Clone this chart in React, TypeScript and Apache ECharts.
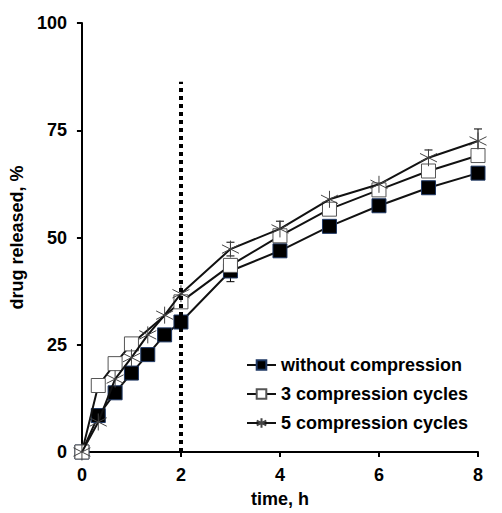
import React, { useEffect, useRef } from "react";
import * as echarts from "echarts";

const times = [0, 0.33, 0.67, 1, 1.33, 1.67, 2, 3, 4, 5, 6, 7, 8];
const withoutCompression = [0, 8.5, 13.8, 18.4, 22.7, 27.3, 30.3, 42.2, 46.9, 52.6, 57.4, 61.6, 65.0];
const threeCycles = [0, 15.5, 20.6, 25.2, null, null, 35.0, 43.5, 50.4, 56.6, 61.1, 65.5, 69.1];
const fiveCycles = [0, 7.0, 17.0, 22.0, 27.3, 31.9, 36.9, 47.3, 52.0, 58.9, 62.4, 68.6, 72.5];
const withoutErr = [0, 0, 0, 0, 0, 0, 0, 2.5, 0, 0, 0, 0, 0];
const fiveErr = [0, 0, 0, 0, 0, 0, 0, 1.6, 1.8, 0, 0, 1.8, 2.8];
const seriesNames = ["without compression", "3 compression cycles", "5 compression cycles"];
const xTicks = [0, 2, 4, 6, 8];
const yTicks = [0, 25, 50, 75, 100];
const markerTime = 2;
const markerTop = 86.3;

const FONT = "'Liberation Sans', Arial, sans-serif";
const STAR = "path://M0,-10 L0,10 M-8.66,-5 L8.66,5 M-8.66,5 L8.66,-5";

function pairs(vals: (number | null)[]) {
  const out: number[][] = [];
  vals.forEach((v, i) => {
    if (v !== null) out.push([times[i], v]);
  });
  return out;
}

function errData(vals: (number | null)[], errs: number[]) {
  const out: number[][] = [];
  errs.forEach((e, i) => {
    const v = vals[i];
    if (e > 0 && v !== null) out.push([times[i], v - e, v + e]);
  });
  return out;
}

function errSeries(data: number[][]) {
  return {
    type: "custom",
    z: 1,
    silent: true,
    data,
    renderItem: (params: any, api: any) => {
      const x = api.value(0);
      const lo = api.coord([x, api.value(1)]);
      const hi = api.coord([x, api.value(2)]);
      const w = 4;
      const st = { stroke: "#000", lineWidth: 1 };
      return {
        type: "group",
        children: [
          { type: "line", shape: { x1: lo[0], y1: lo[1], x2: hi[0], y2: hi[1] }, style: st },
          { type: "line", shape: { x1: lo[0] - w, y1: lo[1], x2: lo[0] + w, y2: lo[1] }, style: st },
          { type: "line", shape: { x1: hi[0] - w, y1: hi[1], x2: hi[0] + w, y2: hi[1] }, style: st },
        ],
      };
    },
  };
}

export default function App() {
  const ref = useRef<HTMLDivElement>(null);
  useEffect(() => {
    if (!ref.current) return;
    const chart = echarts.init(ref.current, undefined, { renderer: "svg" });
    const axisLabel = { color: "#000", fontSize: 18, fontWeight: "bold", fontFamily: FONT, margin: 14 };
    chart.setOption({
      animation: false,
      backgroundColor: "#fff",
      grid: { left: 77, right: 24, top: 23, bottom: 58 },
      xAxis: {
        type: "value",
        min: xTicks[0],
        max: xTicks[xTicks.length - 1],
        interval: 2,
        name: "time, h",
        nameLocation: "middle",
        nameGap: 38,
        nameTextStyle: { color: "#000", fontSize: 18, fontWeight: "bold", fontFamily: FONT },
        axisLine: { lineStyle: { color: "#000", width: 2 } },
        axisTick: { show: true, length: 5, lineStyle: { color: "#000", width: 2 } },
        axisLabel,
        splitLine: { show: false },
      },
      yAxis: {
        type: "value",
        min: yTicks[0],
        max: yTicks[yTicks.length - 1],
        interval: 25,
        name: "drug released, %",
        nameLocation: "middle",
        nameGap: 52,
        nameTextStyle: { color: "#000", fontSize: 18, fontWeight: "bold", fontFamily: FONT },
        axisLine: { show: true, lineStyle: { color: "#000", width: 2 } },
        axisTick: { show: true, length: 5, lineStyle: { color: "#000", width: 2 } },
        axisLabel: { ...axisLabel, margin: 15 },
        splitLine: { show: false },
      },
      legend: {
        orient: "vertical",
        left: 241,
        top: 351,
        itemWidth: 29,
        itemHeight: 12,
        itemGap: 11,
        textStyle: { color: "#000", fontSize: 18, fontWeight: "bold", fontFamily: FONT },
        data: seriesNames,
      },
      series: [
        errSeries(errData(withoutCompression, withoutErr)),
        errSeries(errData(fiveCycles, fiveErr)),
        {
          name: seriesNames[0],
          type: "line",
          z: 2,
          data: pairs(withoutCompression),
          symbol: "rect",
          symbolSize: 14,
          lineStyle: { color: "#111", width: 2 },
          itemStyle: { color: "#000", borderColor: "#1f3864", borderWidth: 1 },
          markLine: {
            silent: true,
            symbol: "none",
            label: { show: false },
            lineStyle: { color: "#000", width: 4, type: [4, 4], cap: "butt" },
            data: [[{ coord: [markerTime, 0] }, { coord: [markerTime, markerTop] }]],
          },
        },
        {
          name: seriesNames[1],
          type: "line",
          z: 3,
          data: pairs(threeCycles),
          symbol: "rect",
          symbolSize: 14,
          lineStyle: { color: "#111", width: 2 },
          itemStyle: { color: "#fff", borderColor: "#555", borderWidth: 1 },
        },
        {
          name: seriesNames[2],
          type: "line",
          z: 4,
          data: pairs(fiveCycles),
          symbol: STAR,
          symbolSize: 17,
          lineStyle: { color: "#111", width: 2 },
          itemStyle: { color: "none", borderColor: "#444", borderWidth: 1 },
        },
      ],
    });
    return () => chart.dispose();
  }, []);
  return <div ref={ref} style={{ width: 502, height: 513, position: "absolute", left: 0, top: 0 }} />;
}
